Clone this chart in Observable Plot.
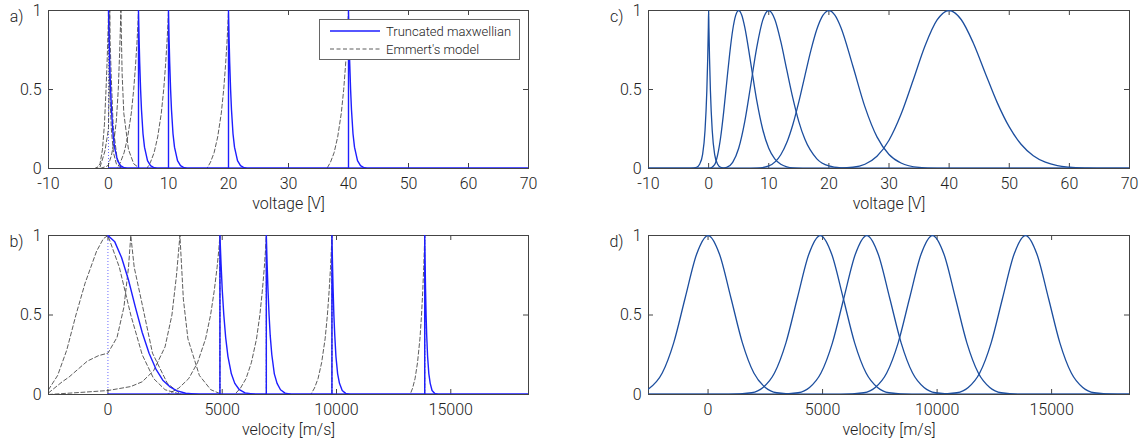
<!DOCTYPE html>
<html><head><meta charset="utf-8">
<script src="https://cdn.jsdelivr.net/npm/d3@7"></script>
<script src="https://cdn.jsdelivr.net/npm/@observablehq/plot@0.6"></script>
<style>
body{margin:0;background:#fff;}
#wrap{position:relative;width:1143px;height:443px;font-family:Roboto,"Liberation Sans",Arial,sans-serif;}
.pn{position:absolute;}
.legend{position:absolute;left:319px;top:19px;width:199px;height:39px;border:1px solid #666;background:#fff;}
.legend text{font-family:Roboto,"Liberation Sans",Arial,sans-serif;font-weight:300;font-size:13px;fill:#222;}
</style></head><body><div id="wrap"></div>
<script>
// ---------- ticks ----------
const Y_TICKS = [0, 0.5, 1];
const V_TICKS = [-10, 0, 10, 20, 30, 40, 50, 60, 70];
const VEL_TICKS = [0, 5000, 10000, 15000];
const V_DOMAIN = [-10, 70];
const VEL_DOMAIN = [-2600, 18400];
const LABEL_V = "voltage [V]";
const LABEL_VEL = "velocity [m/s]";
const LEGEND = ["Truncated maxwellian", "Emmert's model"];

// ---------- panel a: energy, truncated maxwellian (solid) ----------
const aTM0  = [[0,1],[0.1,0.82],[0.2,0.67],[0.35,0.5],[0.5,0.37],[0.75,0.22],[1,0.135],[1.5,0.05],[2,0.018],[2.5,0.007],[3,0.002],[4,0],[70,0]];
const aTM5  = [[0,0],[5,0],[5,1],[5.1,0.82],[5.2,0.67],[5.35,0.5],[5.5,0.37],[5.75,0.22],[6,0.135],[6.5,0.05],[7,0.018],[7.5,0.007],[8,0.002],[9,0],[70,0]];
const aTM10 = [[0,0],[10,0],[10,1],[10.1,0.82],[10.2,0.67],[10.35,0.5],[10.5,0.37],[10.75,0.22],[11,0.135],[11.5,0.05],[12,0.018],[12.5,0.007],[13,0.002],[14,0],[70,0]];
const aTM20 = [[0,0],[20,0],[20,1],[20.1,0.82],[20.2,0.67],[20.35,0.5],[20.5,0.37],[20.75,0.22],[21,0.135],[21.5,0.05],[22,0.018],[22.5,0.007],[23,0.002],[24,0],[70,0]];
const aTM40 = [[0,0],[40,0],[40,1],[40.1,0.82],[40.2,0.67],[40.35,0.5],[40.5,0.37],[40.75,0.22],[41,0.135],[41.5,0.05],[42,0.018],[42.5,0.007],[43,0.002],[44,0],[70,0]];
// ---------- panel a: Emmert's model (dashed) ----------
const aEMa  = [[-10,0],[-2.3,0],[-1.8,0.01],[-1.41,0.03],[-1.01,0.12],[-0.675,0.28],[-0.41,0.5],[-0.21,0.7],[-0.052,0.9],[-0.008,0.98],[0,1],[0.05,0.8],[0.21,0.5],[0.47,0.25],[0.83,0.1],[1.3,0.03],[2.13,0],[70,0]];
const aEMb  = [[-10,0],[-2,0],[-1.41,0.01],[-0.83,0.08],[-0.6,0.11],[-0.17,0.21],[-0.033,0.245],[0,0.26],[0.033,0.36],[0.102,0.55],[0.169,0.8],[0.208,1],[0.275,0.8],[0.438,0.6],[0.79,0.26],[1.41,0.07],[2.13,0],[70,0]];
const aEMc  = [[-10,0],[-1.41,0],[-0.21,0.015],[0,0.025],[0.21,0.05],[0.47,0.08],[0.83,0.15],[1.3,0.3],[1.63,0.5],[1.87,0.75],[2.07,1],[2.27,0.6],[2.55,0.35],[3.33,0.12],[4.2,0.03],[5.2,0],[70,0]];
const aEM5  = [[-10,0],[1.4,0],[2,0.04],[2.6,0.1],[3.2,0.2],[3.8,0.35],[4.2,0.5],[4.5,0.65],[4.75,0.8],[4.9,0.91],[5,1],[5,0],[70,0]];
const aEM10 = [[-10,0],[6.4,0],[7,0.04],[7.6,0.1],[8.2,0.2],[8.8,0.35],[9.2,0.5],[9.5,0.65],[9.75,0.8],[9.9,0.91],[10,1],[10,0],[70,0]];
const aEM20 = [[-10,0],[16.4,0],[17,0.04],[17.6,0.1],[18.2,0.2],[18.8,0.35],[19.2,0.5],[19.5,0.65],[19.75,0.8],[19.9,0.91],[20,1],[20,0],[70,0]];
const aEM40 = [[-10,0],[36.4,0],[37,0.04],[37.6,0.1],[38.2,0.2],[38.8,0.35],[39.2,0.5],[39.5,0.65],[39.75,0.8],[39.9,0.91],[40,1],[40,0],[70,0]];
const aDOTS = [0, 5, 10, 20, 40];

// ---------- panel b: velocity, truncated maxwellian (solid) ----------
const bTM0     = [[0,1],[300,0.96],[600,0.86],[900,0.72],[1200,0.55],[1500,0.39],[1800,0.26],[2100,0.16],[2400,0.09],[2700,0.05],[3000,0.024],[3400,0.008],[4000,0.001],[4500,0],[18400,0]];
const bTM4900  = [[0,0],[4900,0],[4900,1],[4950,0.82],[5000,0.66],[5070,0.5],[5150,0.36],[5250,0.24],[5400,0.13],[5550,0.07],[5750,0.03],[6000,0.01],[6400,0.002],[6800,0],[18400,0]];
const bTM6930  = [[0,0],[6930,0],[6930,1],[6965,0.82],[7000,0.67],[7050,0.5],[7100,0.37],[7170,0.25],[7280,0.13],[7400,0.07],[7550,0.03],[7750,0.009],[8000,0.002],[8300,0],[18400,0]];
const bTM9800  = [[0,0],[9800,0],[9800,1],[9825,0.82],[9850,0.67],[9885,0.5],[9925,0.37],[9975,0.24],[10050,0.13],[10130,0.07],[10250,0.025],[10400,0.007],[10600,0.001],[10800,0],[18400,0]];
const bTM13860 = [[0,0],[13860,0],[13860,1],[13878,0.82],[13895,0.67],[13920,0.5],[13947,0.37],[13985,0.24],[14040,0.13],[14100,0.07],[14180,0.025],[14300,0.006],[14450,0.001],[14600,0],[18400,0]];
// ---------- panel b: Emmert's model (dashed) ----------
const bEMa     = [[-2600,0.03],[-2200,0.12],[-1800,0.28],[-1400,0.5],[-1000,0.7],[-500,0.9],[-200,0.98],[0,1],[500,0.8],[1000,0.5],[1500,0.25],[2000,0.1],[2500,0.03],[3200,0],[18400,0]];
const bEMb     = [[-2600,0.01],[-2000,0.08],[-1700,0.11],[-900,0.21],[-400,0.245],[0,0.26],[400,0.36],[700,0.55],[900,0.8],[1000,1],[1150,0.8],[1450,0.6],[1950,0.26],[2600,0.07],[3200,0],[18400,0]];
const bEMc     = [[-2600,0],[-1000,0.015],[0,0.025],[1000,0.05],[1500,0.08],[2000,0.15],[2500,0.3],[2800,0.5],[3000,0.75],[3150,1],[3300,0.6],[3500,0.35],[4000,0.12],[4500,0.03],[5000,0],[18400,0]];
const bEM4900  = [[-2600,0],[2593,0],[3099,0.04],[3534,0.1],[3920,0.2],[4272,0.35],[4491,0.5],[4649,0.65],[4776,0.8],[4851,0.91],[4900,1],[4900,0],[18400,0]];
const bEM6930  = [[-2600,0],[5544,0],[5798,0.04],[6041,0.1],[6275,0.2],[6501,0.35],[6647,0.5],[6754,0.65],[6843,0.8],[6895,0.91],[6930,1],[6930,0],[18400,0]];
const bEM9800  = [[-2600,0],[8874,0],[9035,0.04],[9193,0.1],[9349,0.2],[9502,0.35],[9602,0.5],[9677,0.65],[9739,0.8],[9775,0.91],[9800,1],[9800,0],[18400,0]];
const bEM13860 = [[-2600,0],[13221,0],[13330,0.04],[13437,0.1],[13544,0.2],[13650,0.35],[13720,0.5],[13773,0.65],[13816,0.8],[13842,0.91],[13860,1],[13860,0],[18400,0]];
const bDOTS = [0, 4900, 6930, 9800, 13860];

// ---------- panel c: energy, gaussian beams ----------
const c0  = [[-10,0],[-3,0.001],[-2,0.008],[-1.5,0.027],[-1,0.09],[-0.6,0.24],[-0.3,0.49],[-0.15,0.7],[-0.05,0.89],[0,1],[0.05,0.89],[0.15,0.7],[0.3,0.49],[0.6,0.24],[1,0.09],[1.5,0.027],[2,0.008],[3,0.001],[4,0],[70,0]];
const c5  = [[-10,0],[0,0],[1,0.025],[1.5,0.086],[2,0.198],[2.5,0.357],[3,0.543],[3.5,0.725],[4,0.875],[4.5,0.969],[5,1],[5.5,0.972],[6,0.897],[7,0.669],[8,0.431],[9,0.247],[10,0.128],[11,0.061],[12,0.027],[13,0.011],[14,0.004],[16,0.001],[18,0],[70,0]];
const c10 = [[-10,0],[2,0],[3,0.007],[4,0.039],[5,0.128],[6,0.295],[7,0.527],[8,0.765],[9,0.939],[10,1],[11,0.945],[12,0.804],[13,0.624],[14,0.447],[15,0.297],[16,0.186],[18,0.061],[20,0.016],[22,0.004],[25,0],[70,0]];
const c20 = [[-10,0],[6,0],[8,0.0015],[10,0.016],[12,0.087],[13,0.164],[14,0.277],[15,0.422],[16,0.585],[17,0.746],[18,0.881],[19,0.969],[20,1],[21,0.971],[22,0.893],[24,0.647],[26,0.39],[28,0.2],[30,0.089],[32,0.035],[35,0.007],[38,0.001],[42,0],[70,0]];
const c40 = [[-10,0],[20,0],[24,0.008],[26,0.027],[28,0.077],[30,0.179],[32,0.343],[34,0.557],[36,0.777],[38,0.94],[40,1],[42,0.943],[44,0.796],[46,0.605],[48,0.417],[50,0.263],[52,0.152],[54,0.081],[56,0.04],[58,0.018],[60,0.008],[63,0.002],[66,0],[70,0]];

// ---------- panel d: velocity, gaussian beams ----------
const d0     = [[-2600,0.034],[-2000,0.135],[-1500,0.325],[-1000,0.607],[-500,0.882],[0,1],[500,0.882],[1000,0.607],[1500,0.325],[2000,0.135],[2500,0.044],[3000,0.011],[4000,0],[18400,0]];
const d4900  = [[-2600,0],[900,0],[1900,0.011],[2400,0.044],[2900,0.135],[3400,0.325],[3900,0.607],[4400,0.882],[4900,1],[5400,0.882],[5900,0.607],[6400,0.325],[6900,0.135],[7400,0.044],[7900,0.011],[8900,0],[18400,0]];
const d6930  = [[-2600,0],[2930,0],[3930,0.011],[4430,0.044],[4930,0.135],[5430,0.325],[5930,0.607],[6430,0.882],[6930,1],[7430,0.882],[7930,0.607],[8430,0.325],[8930,0.135],[9430,0.044],[9930,0.011],[10930,0],[18400,0]];
const d9800  = [[-2600,0],[5800,0],[6800,0.011],[7300,0.044],[7800,0.135],[8300,0.325],[8800,0.607],[9300,0.882],[9800,1],[10300,0.882],[10800,0.607],[11300,0.325],[11800,0.135],[12300,0.044],[12800,0.011],[13800,0],[18400,0]];
const d13860 = [[-2600,0],[9860,0],[10860,0.011],[11360,0.044],[11860,0.135],[12360,0.325],[12860,0.607],[13360,0.882],[13860,1],[14360,0.882],[14860,0.607],[15360,0.325],[15860,0.135],[16360,0.044],[16860,0.011],[17860,0],[18400,0]];

// ---------- styles ----------
const FONT = 'Roboto, "Liberation Sans", Arial, sans-serif';
const TM_COLOR = "#1e1eff", EM_COLOR = "#333333", DOT_COLOR = "#6a6aff", CD_COLOR = "#1c4e9e", AX = "#444";

function rows(curves){ return curves.flatMap((pts,i)=>pts.map(([x,y])=>({x,y,id:i}))); }

function panel(o){
  const [x0,x1] = o.xdom;
  const tx = (x1-x0)*5/(o.width-o.ml-o.mr);
  const ty = 5/(o.height-o.mt-o.mb);
  const marks = [
    Plot.frame({stroke:AX}),
    Plot.ruleX(o.xticks,{x:d=>d,y1:0,y2:ty,stroke:AX}),
    Plot.ruleX(o.xticks,{x:d=>d,y1:1-ty,y2:1,stroke:AX}),
    Plot.ruleY(Y_TICKS,{y:d=>d,x1:x0,x2:x0+tx,stroke:AX}),
    Plot.ruleY(Y_TICKS,{y:d=>d,x1:x1-tx,x2:x1,stroke:AX}),
    Plot.axisX(o.xticks,{tickSize:0,tickPadding:9,tickFormat:d=>String(d),label:null}),
    Plot.axisY(Y_TICKS,{tickSize:0,tickPadding:7,tickFormat:d=>String(d),label:null}),
    ...o.marks,
    Plot.text([o.xlabel],{frameAnchor:"bottom",dy:40,text:d=>d}),
    Plot.text([o.letter],{frameAnchor:"top-left",dx:-25,textAnchor:"end",text:d=>d})
  ];
  const svg = Plot.plot({
    width:o.width, height:o.height,
    marginLeft:o.ml, marginRight:o.mr, marginTop:o.mt, marginBottom:o.mb,
    x:{domain:o.xdom}, y:{domain:[0,1]},
    style:{fontFamily:FONT, fontSize:"16px", fontWeight:300, color:"#222", background:"transparent", overflow:"visible"},
    marks
  });
  const div = document.createElement("div");
  div.className = "pn";
  div.style.left = o.left+"px"; div.style.top = o.top+"px";
  div.appendChild(svg);
  document.getElementById("wrap").appendChild(div);
}

const emStyle = {x:"x",y:"y",z:"id",stroke:EM_COLOR,strokeWidth:0.8,strokeDasharray:"4,2.5",clip:true};
const tmStyle = {x:"x",y:"y",z:"id",stroke:TM_COLOR,strokeWidth:1.4,clip:true};
const cdStyle = {x:"x",y:"y",z:"id",stroke:CD_COLOR,strokeWidth:1.3,curve:"monotone-x",clip:true};

panel({left:0, top:0, width:560, height:215, ml:48, mr:32, mt:10, mb:47,
  xdom:V_DOMAIN, xticks:V_TICKS, xlabel:LABEL_V, letter:"a)",
  marks:[
    Plot.ruleX(aDOTS,{x:d=>d,y1:0,y2:1,stroke:DOT_COLOR,strokeDasharray:"1,2"}),
    Plot.line(rows([aEMa,aEMb,aEMc,aEM5,aEM10,aEM20,aEM40]),emStyle),
    Plot.line(rows([aTM0,aTM5,aTM10,aTM20,aTM40]),tmStyle)
  ]});

panel({left:0, top:220, width:560, height:223, ml:48, mr:32, mt:15, mb:49,
  xdom:VEL_DOMAIN, xticks:VEL_TICKS, xlabel:LABEL_VEL, letter:"b)",
  marks:[
    Plot.ruleX(bDOTS,{x:d=>d,y1:0,y2:1,stroke:DOT_COLOR,strokeDasharray:"1,2"}),
    Plot.line(rows([bEMa,bEMb,bEMc,bEM4900,bEM6930,bEM9800,bEM13860]),emStyle),
    Plot.line(rows([bTM0,bTM4900,bTM6930,bTM9800,bTM13860]),tmStyle)
  ]});

panel({left:560, top:0, width:583, height:215, ml:88, mr:14, mt:10, mb:47,
  xdom:V_DOMAIN, xticks:V_TICKS, xlabel:LABEL_V, letter:"c)",
  marks:[ Plot.line(rows([c0,c5,c10,c20,c40]),cdStyle) ]});

panel({left:560, top:220, width:583, height:223, ml:88, mr:14, mt:15, mb:49,
  xdom:VEL_DOMAIN, xticks:VEL_TICKS, xlabel:LABEL_VEL, letter:"d)",
  marks:[ Plot.line(rows([d0,d4900,d6930,d9800,d13860]),cdStyle) ]});

// legend (panel a)
const lg = document.createElement("div");
lg.className = "legend";
lg.innerHTML = `<svg width="199" height="39">
  <line x1="10" y1="11" x2="60" y2="11" stroke="${TM_COLOR}" stroke-width="1.4"/>
  <text x="66" y="15.5">${LEGEND[0]}</text>
  <line x1="10" y1="29" x2="60" y2="29" stroke="${EM_COLOR}" stroke-width="0.8" stroke-dasharray="4,2.5"/>
  <text x="66" y="33.5">${LEGEND[1]}</text></svg>`;
document.getElementById("wrap").appendChild(lg);
</script></body></html>
